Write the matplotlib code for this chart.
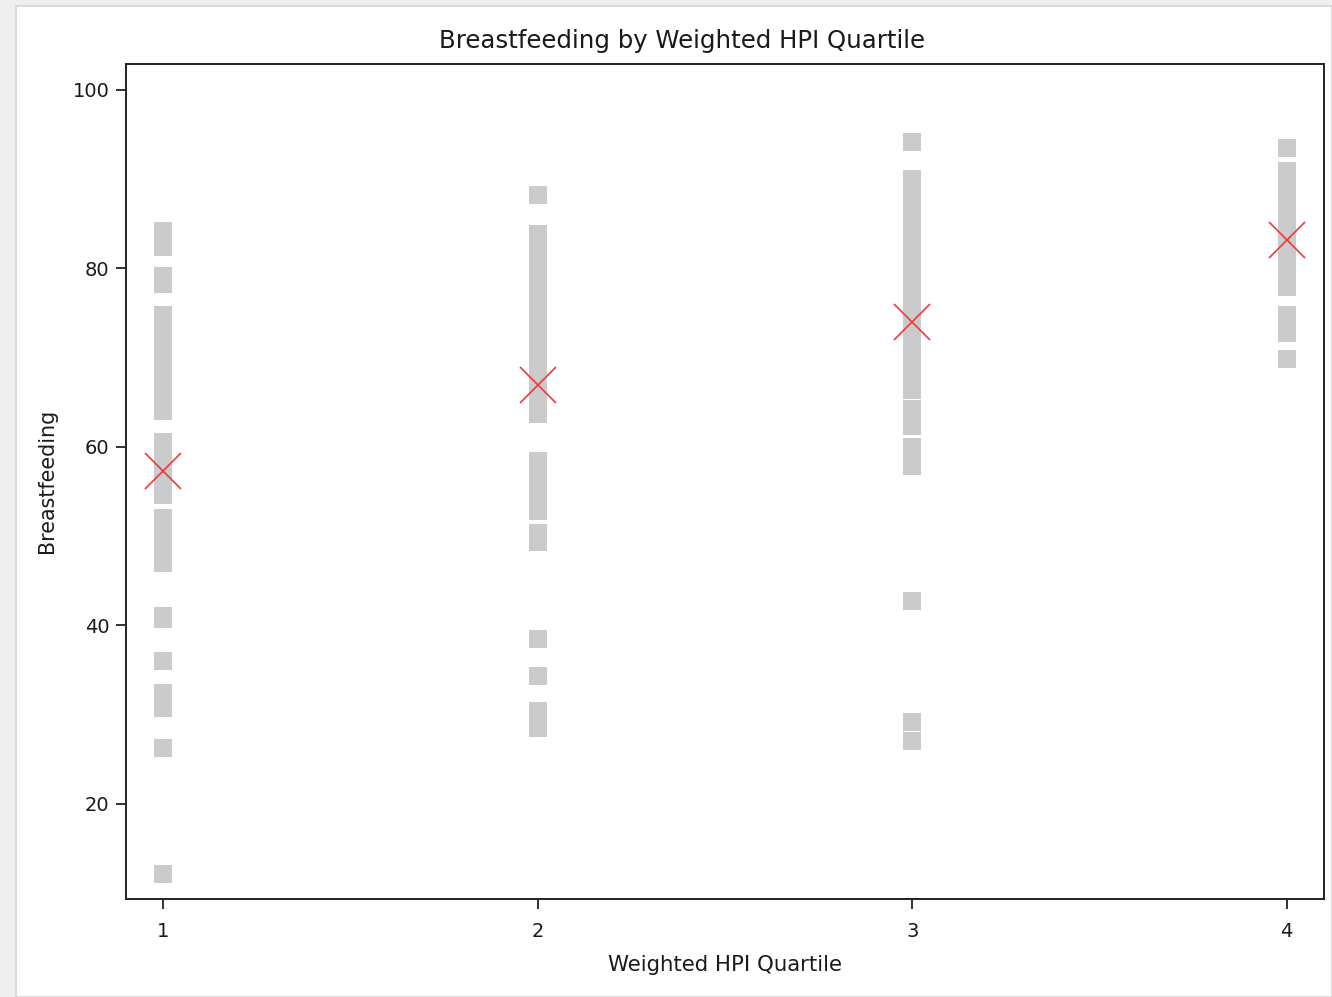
import matplotlib

matplotlib.use("Agg")
import matplotlib.patches as mpatches
import matplotlib.pyplot as plt
import numpy as np

# Quartile positions and labels
quartiles = [1, 2, 3, 4]
tick_labels = ["1", "2", "3", "4"]

# Breastfeeding values per quartile
q1_values = [84.2, 83.2, 82.4, 79.1, 78.2, 74.8, 73.6, 72.5, 71.1, 70.0, 68.8,
             67.5, 66.4, 65.1, 64.0, 60.6, 59.5, 58.2, 57.0, 55.8, 54.6, 52.0,
             50.7, 49.5, 48.1, 47.0, 41.0, 40.7, 36.0, 32.4, 31.5, 30.8, 26.3,
             12.2]
q2_values = [88.2, 83.9, 82.8, 81.4, 80.1, 78.9, 77.7, 76.3, 75.2, 73.8, 72.7,
             71.3, 70.1, 68.9, 67.5, 66.4, 65.0, 63.7, 58.4, 57.2, 55.8, 54.7,
             53.5, 52.8, 50.4, 49.3, 38.5, 34.3, 30.4, 29.4, 28.5]
q3_values = [94.2, 90.0, 88.7, 87.6, 86.2, 85.1, 83.9, 82.5, 81.3, 80.2, 78.8,
             77.7, 76.4, 75.0, 73.9, 72.6, 71.2, 70.1, 68.9, 67.5, 66.4, 64.2,
             63.2, 62.3, 60.0, 58.9, 57.9, 42.7, 29.2, 27.1]
q4_values = [93.5, 90.9, 89.6, 88.5, 87.1, 86.0, 84.6, 83.5, 82.1, 81.0, 79.6,
             78.5, 77.9, 74.8, 73.8, 72.8, 69.8]
group_values = [q1_values, q2_values, q3_values, q4_values]

# Mean per quartile (red X)
means = [57.35, 66.98, 74.04, 83.15]

W, H = 1332, 997
fig = plt.figure(figsize=(W / 100, H / 100), dpi=100, facecolor="#EFEFEF")

# white page behind the chart (screenshot frame)
page = mpatches.Rectangle((16 / W, 0), 1 - 16 / W, 1 - 6 / H, transform=fig.transFigure,
                          facecolor="white", edgecolor="#D4D4D4", linewidth=1.2)
page.set_zorder(-10)
fig.add_artist(page)

ax = fig.add_axes([126 / W, (H - 898.5) / H, 1198 / W, 834.5 / H])

for q, vals in zip(quartiles, group_values):
    ax.plot(np.full(len(vals), q), vals, linestyle="none", marker="s",
            markersize=12.4, markerfacecolor="#CBCBCB", markeredgewidth=0,
            zorder=2)

ax.plot(quartiles, means, linestyle="none", marker="x", markersize=26,
        markeredgecolor="#F0383C", markeredgewidth=1.2, zorder=3)

ax.set_xlim(0.9, 4.1)
ax.set_ylim(9.4, 102.9)
ax.set_xticks(quartiles)
ax.set_xticklabels(tick_labels)
ax.set_yticks([20, 40, 60, 80, 100])

text_color = "#1A1A1A"
ax.tick_params(direction="out", length=7, width=1.3, color="#222222",
               labelsize=14, labelcolor=text_color)
ax.tick_params(axis="x", pad=10)
ax.tick_params(axis="y", pad=5)
for s in ax.spines.values():
    s.set_linewidth(1.4)
    s.set_color("#222222")

fig.text(682 / W, 1 - 41 / H, "Breastfeeding by Weighted HPI Quartile",
         fontsize=17.6, color=text_color, ha="center", va="center")
ax.set_xlabel("Weighted HPI Quartile", fontsize=15.3, color=text_color, labelpad=10)
ax.set_ylabel("Breastfeeding", fontsize=14.9, color=text_color, labelpad=11)

plt.savefig("out.png", dpi=100, facecolor=fig.get_facecolor())
